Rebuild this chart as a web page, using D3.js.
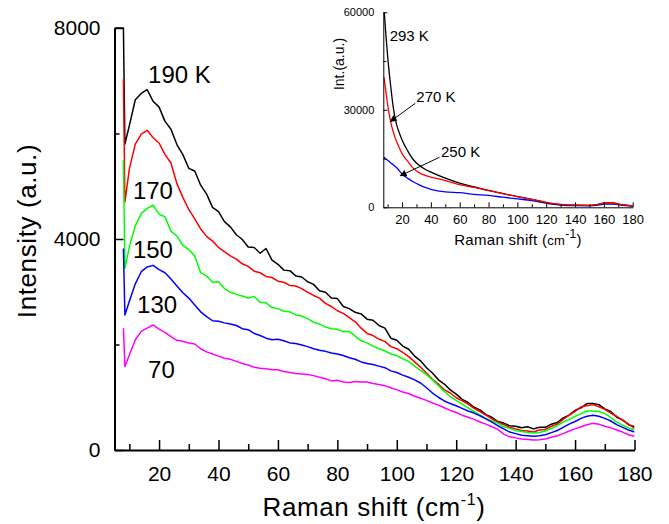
<!DOCTYPE html>
<html>
<head>
<meta charset="utf-8">
<script src="https://cdn.jsdelivr.net/npm/d3@7/dist/d3.min.js"></script>
<style>
  body { margin: 0; background: #fff; }
  svg { display: block; font-family: "Liberation Sans", Arial, sans-serif; }
  .axis path, .axis line { stroke: #000; }
  .axis text { fill: #000; }
</style>
</head>
<body>
<div id="chart"></div>
<script>
'use strict'

// main panel: shared Raman shift grid (cm-1)
const ramanShift = [5, 8, 8.5,
  10, 12, 14, 16, 18, 20, 22, 24, 26, 28,
  30, 32, 34, 36, 38, 40, 42, 44, 46, 48,
  50, 52, 54, 56, 58, 60, 62, 64, 66, 68,
  70, 72, 74, 76, 78, 80, 82, 84, 86, 88,
  90, 92, 94, 96, 98, 100, 102, 104, 106, 108,
  110, 112, 114, 116, 118, 120, 122, 124, 126, 128,
  130, 132, 134, 136, 138, 140, 142, 144, 146, 148,
  150, 152, 154, 156, 158, 160, 162, 164, 166, 168,
  170, 172, 174, 176, 178, 180]

const int190 = [8000, 8000, 5800,
  6150, 6640, 6760, 6830, 6610, 6500, 6230, 6080, 5790, 5600,
  5340, 5290, 5020, 4850, 4600, 4520, 4330, 4230, 4080, 3990,
  3850, 3840, 3730, 3820, 3600, 3520, 3410, 3400, 3300, 3280,
  3190, 3140, 3020, 2990, 2880, 2870, 2720, 2680, 2610, 2580,
  2480, 2460, 2360, 2310, 2120, 2080, 1970, 1910, 1780, 1690,
  1560, 1460, 1330, 1250, 1140, 1060, 960, 900, 810, 760,
  670, 620, 540, 510, 460, 450, 420, 440, 400, 430,
  430, 490, 520, 610, 660, 750, 800, 880, 880, 860,
  780, 730, 620, 570, 480, 440]

const int170 = [null, 7030, 4700,
  5330, 5800, 5990, 6060, 5920, 5820, 5600, 5440, 5050, 4790,
  4560, 4380, 4190, 4050, 3960, 3840, 3760, 3680, 3620, 3530,
  3480, 3390, 3360, 3290, 3270, 3200, 3180, 3120, 3110, 3060,
  2990, 2930, 2880, 2780, 2720, 2640, 2590, 2510, 2430, 2310,
  2210, 2170, 2100, 2060, 1960, 1920, 1850, 1770, 1670, 1570,
  1460, 1340, 1250, 1140, 1080, 990, 930, 870, 790, 730,
  660, 590, 530, 480, 430, 400, 370, 360, 340, 380,
  390, 450, 490, 580, 660, 730, 820, 840, 860, 820,
  770, 700, 640, 560, 490, 410]

const int150 = [null, 5500, 3440,
  3850, 4250, 4480, 4580, 4640, 4470, 4420, 4150, 4060, 3880,
  3800, 3680, 3360, 3300, 3180, 3190, 3060, 2990, 2950, 2920,
  2880, 2910, 2800, 2790, 2700, 2680, 2630, 2620, 2560, 2540,
  2490, 2420, 2390, 2330, 2300, 2290, 2240, 2250, 2160, 2070,
  2030, 1970, 1920, 1880, 1820, 1790, 1730, 1680, 1590, 1510,
  1430, 1330, 1220, 1110, 1010, 940, 870, 800, 730, 660,
  600, 550, 510, 440, 410, 370, 350, 330, 320, 330,
  360, 410, 460, 530, 580, 640, 690, 740, 740, 730,
  690, 620, 530, 470, 420, 380]

const int130 = [null, 3820, 2560,
  2820, 3150, 3380, 3470, 3500, 3420, 3360, 3240, 3110, 2980,
  2880, 2750, 2620, 2530, 2450, 2440, 2410, 2390, 2360, 2300,
  2280, 2210, 2170, 2120, 2090, 2100, 2070, 2030, 2020, 1990,
  1960, 1920, 1890, 1870, 1840, 1820, 1790, 1750, 1720, 1670,
  1640, 1620, 1590, 1560, 1500, 1470, 1420, 1380, 1330, 1270,
  1180, 1080, 1000, 930, 880, 840, 790, 740, 700, 650,
  590, 530, 460, 400, 340, 310, 280, 270, 260, 270,
  290, 330, 370, 430, 490, 540, 600, 640, 660, 640,
  600, 550, 480, 430, 380, 340]

const int70 = [null, 2310, 1580,
  1800, 2090, 2250, 2310, 2370, 2290, 2230, 2150, 2080, 2060,
  2030, 2010, 1920, 1860, 1820, 1780, 1740, 1720, 1680, 1640,
  1610, 1570, 1550, 1540, 1520, 1520, 1490, 1470, 1450, 1440,
  1430, 1410, 1380, 1350, 1310, 1320, 1290, 1280, 1300, 1290,
  1290, 1260, 1240, 1220, 1180, 1140, 1100, 1070, 1020, 980,
  940, 890, 850, 800, 750, 710, 660, 620, 580, 530,
  490, 440, 390, 300, 250, 230, 210, 200, 190, 195,
  210, 240, 270, 310, 360, 400, 440, 480, 505, 490,
  450, 420, 380, 340, 290, 260]

const xTicks = [20, 40, 60, 80, 100, 120, 140, 160, 180]
const xMinorTicks = [10, 30, 50, 70, 90, 110, 130, 150, 170]
const yTicks = [0, 4000, 8000]
const yMinorTicks = [2000, 6000]

// inset: higher temperatures
const insetShift = [7.5, 9, 10, 12, 14, 16, 18, 20, 24, 28, 32, 36, 40, 50, 60,
  70, 80, 90, 100, 110, 120, 130, 140, 150, 155, 160, 165, 170, 175, 180]
const int293 = [61000, 52000, 46500, 37800, 30500, 25800, 23000, 20700, 17300, 14550,
  12900, 11700, 10850, 9000, 7450, 6250, 5200, 4200, 3300, 2450,
  1450, 850, 650, 620, 800, 1300, 1400, 1000, 650, 400]
const int270 = [40000, 35000, 31500, 26600, 23000, 20500, 18400, 16500, 14100, 11900,
  10600, 9800, 9300, 8200, 6950, 6100, 5100, 4200, 3300, 2450,
  1500, 880, 650, 620, 800, 1300, 1400, 1000, 650, 400]
const int250 = [15400, 14800, 14500, 13700, 13050, 12300, 11300, 10250, 8900, 7800,
  6900, 6100, 5550, 4750, 4500, 4000, 3650, 3100, 2600, 2050,
  1250, 700, 500, 480, 600, 950, 1000, 800, 550, 400]
const insetXTicks = [20, 40, 60, 80, 100, 120, 140, 160, 180]
const insetXMinor = [10, 30, 50, 70, 90, 110, 130, 150, 170]
const insetYTicks = [0, 30000, 60000]
const insetYMinor = [15000, 45000]

const width = 669
const height = 524

const svg = d3.select('#chart')
  .append('svg')
  .attr('width', width)
  .attr('height', height)

// ---- main panel ----
const x = d3.scaleLinear().domain([5, 180]).range([114.5, 634.5])
const y = d3.scaleLinear().domain([0, 8000]).range([450, 28])

svg.append('clipPath')
  .attr('id', 'mainclip')
  .append('rect')
  .attr('x', x.range()[0])
  .attr('y', y.range()[1] - 1)
  .attr('width', x.range()[1] - x.range()[0])
  .attr('height', y.range()[0] - y.range()[1] + 1)

const mainSeries = [
  { values: int190, color: '#000000' },
  { values: int170, color: '#ff0000' },
  { values: int150, color: '#00ff00' },
  { values: int130, color: '#0000ff' },
  { values: int70, color: '#ff00ff' }
]

const line = d3.line()
  .defined(d => d.v != null)
  .x(d => x(d.x))
  .y(d => y(d.v))

svg.append('g')
  .attr('class', 'curves')
  .attr('clip-path', 'url(#mainclip)')
  .selectAll('path')
  .data(mainSeries)
  .enter()
  .append('path')
  .attr('fill', 'none')
  .attr('stroke', d => d.color)
  .attr('stroke-width', 1.5)
  .attr('stroke-linejoin', 'round')
  .attr('d', d => line(d.values.map((v, i) => ({ x: ramanShift[i], v }))))

// axes, ticks pointing inward
svg.append('g')
  .attr('class', 'axis')
  .attr('transform', `translate(0,${y(0)})`)
  .call(d3.axisBottom(x).tickValues(xMinorTicks).tickSize(-6).tickSizeOuter(0).tickFormat(''))
  .call(g => g.select('.domain').remove())
  .selectAll('line').attr('stroke-width', 1.5)

svg.append('g')
  .attr('class', 'axis')
  .attr('transform', `translate(0,${y(0)})`)
  .call(d3.axisBottom(x).tickValues(xTicks).tickSize(-10).tickSizeOuter(0).tickPadding(16))
  .call(g => g.select('.domain').attr('stroke-width', 2))
  .call(g => g.selectAll('line').attr('stroke-width', 1.5))
  .selectAll('text')
  .attr('font-size', 21)
  .attr('font-family', '"Liberation Sans", Arial, sans-serif')

svg.append('g')
  .attr('class', 'axis')
  .attr('transform', `translate(${x(5)},0)`)
  .call(d3.axisLeft(y).tickValues(yMinorTicks).tickSize(-5).tickSizeOuter(0).tickFormat(''))
  .call(g => g.select('.domain').remove())
  .selectAll('line').attr('stroke-width', 1.5)

svg.append('g')
  .attr('class', 'axis')
  .attr('transform', `translate(${x(5)},0)`)
  .call(d3.axisLeft(y).tickValues(yTicks).tickSize(-9).tickSizeOuter(0).tickPadding(14).tickFormat(d3.format('d')))
  .call(g => g.select('.domain').attr('stroke-width', 2))
  .call(g => g.selectAll('line').attr('stroke-width', 1.5))
  .selectAll('text')
  .attr('font-size', 21)
  .attr('font-family', '"Liberation Sans", Arial, sans-serif')

// axis titles
const xTitle = svg.append('text')
  .attr('x', 374)
  .attr('y', 516)
  .attr('text-anchor', 'middle')
  .attr('font-size', 26)
  .attr('letter-spacing', 0.6)
xTitle.append('tspan').text('Raman shift (cm')
xTitle.append('tspan').attr('font-size', 16).attr('dy', -11).text('-1')
xTitle.append('tspan').attr('dy', 11).text(')')

svg.append('text')
  .attr('transform', 'translate(36,231) rotate(-90)')
  .attr('text-anchor', 'middle')
  .attr('font-size', 26)
  .attr('letter-spacing', 0.6)
  .text('Intensity (a.u.)')

// curve labels
const mainLabels = [
  { text: '190 K', x: 16.3, v: 6950 },
  { text: '170', x: 11.2, v: 4760 },
  { text: '150', x: 11.2, v: 3640 },
  { text: '130', x: 12.6, v: 2600 },
  { text: '70', x: 16.3, v: 1365 }
]
svg.append('g')
  .selectAll('text')
  .data(mainLabels)
  .enter()
  .append('text')
  .attr('x', d => x(d.x))
  .attr('y', d => y(d.v))
  .attr('font-size', 24)
  .text(d => d.text)

// ---- inset ----
const ix = d3.scaleLinear().domain([7, 180]).range([383.3, 632.7])
const iy = d3.scaleLinear().domain([0, 60000]).range([207.3, 12.3])

svg.append('clipPath')
  .attr('id', 'insetclip')
  .append('rect')
  .attr('x', ix.range()[0])
  .attr('y', iy.range()[1])
  .attr('width', ix.range()[1] - ix.range()[0])
  .attr('height', iy.range()[0] - iy.range()[1])

const insetSeries = [
  { values: int250, color: '#0000ff' },
  { values: int293, color: '#000000' },
  { values: int270, color: '#ff0000' }
]

const insetLine = d3.line()
  .curve(d3.curveMonotoneX)
  .x(d => ix(d.x))
  .y(d => iy(d.v))

svg.append('g')
  .attr('clip-path', 'url(#insetclip)')
  .selectAll('path')
  .data(insetSeries)
  .enter()
  .append('path')
  .attr('fill', 'none')
  .attr('stroke', d => d.color)
  .attr('stroke-width', 1.3)
  .attr('d', d => insetLine(d.values.map((v, i) => ({ x: insetShift[i], v }))))

svg.append('g')
  .attr('class', 'axis')
  .attr('transform', `translate(0,${iy(0)})`)
  .call(d3.axisBottom(ix).tickValues(insetXMinor).tickSize(-3).tickSizeOuter(0).tickFormat(''))
  .call(g => g.select('.domain').remove())

svg.append('g')
  .attr('class', 'axis')
  .attr('transform', `translate(0,${iy(0)})`)
  .call(d3.axisBottom(ix).tickValues(insetXTicks).tickSize(-5).tickSizeOuter(0).tickPadding(7))
  .selectAll('text')
  .attr('font-size', 13)
  .attr('font-family', '"Liberation Sans", Arial, sans-serif')

svg.append('g')
  .attr('class', 'axis')
  .attr('transform', `translate(${ix(7)},0)`)
  .call(d3.axisLeft(iy).tickValues(insetYMinor).tickSize(-3).tickSizeOuter(0).tickFormat(''))
  .call(g => g.select('.domain').remove())

svg.append('g')
  .attr('class', 'axis')
  .attr('transform', `translate(${ix(7)},0)`)
  .call(d3.axisLeft(iy).tickValues(insetYTicks).tickSize(-4).tickSizeOuter(0).tickPadding(9).tickFormat(d3.format('d')))
  .selectAll('text')
  .attr('font-size', 11)
  .attr('font-family', '"Liberation Sans", Arial, sans-serif')

const ixTitle = svg.append('text')
  .attr('x', 518)
  .attr('y', 245)
  .attr('text-anchor', 'middle')
  .attr('font-size', 15)
  .attr('letter-spacing', 0.3)
ixTitle.append('tspan').text('Raman shift (')
ixTitle.append('tspan').attr('font-size', 13).text('cm')
ixTitle.append('tspan').attr('font-size', 12).attr('dy', -7).text('-1')
ixTitle.append('tspan').attr('dy', 7).text(')')

svg.append('text')
  .attr('transform', 'translate(344,64) rotate(-90)')
  .attr('text-anchor', 'middle')
  .attr('font-size', 14)
  .text('Int.(a.u.)')

// inset labels and arrows
svg.append('defs')
  .append('marker')
  .attr('id', 'arrowhead')
  .attr('viewBox', '0 0 10 10')
  .attr('refX', 9)
  .attr('refY', 5)
  .attr('markerWidth', 7)
  .attr('markerHeight', 7)
  .attr('markerUnits', 'userSpaceOnUse')
  .attr('orient', 'auto')
  .append('path')
  .attr('d', 'M0,0 L10,5 L0,10 z')
  .attr('fill', '#000')

const insetLabels = [
  { text: '293 K', x: 11.4, v: 51300 },
  { text: '270 K', x: 29.9, v: 32400 },
  { text: '250 K', x: 47, v: 15500 }
]
svg.append('g')
  .selectAll('text')
  .data(insetLabels)
  .enter()
  .append('text')
  .attr('x', d => ix(d.x))
  .attr('y', d => iy(d.v))
  .attr('font-size', 15)
  .text(d => d.text)

const insetArrows = [
  { x1: 29.2, v1: 32000, x2: 11.9, v2: 26400 },
  { x1: 46, v1: 15400, x2: 18.8, v2: 9700 }
]
svg.append('g')
  .selectAll('line')
  .data(insetArrows)
  .enter()
  .append('line')
  .attr('x1', d => ix(d.x1))
  .attr('y1', d => iy(d.v1))
  .attr('x2', d => ix(d.x2))
  .attr('y2', d => iy(d.v2))
  .attr('stroke', '#000')
  .attr('stroke-width', 1)
  .attr('marker-end', 'url(#arrowhead)')
</script>
</body>
</html>
